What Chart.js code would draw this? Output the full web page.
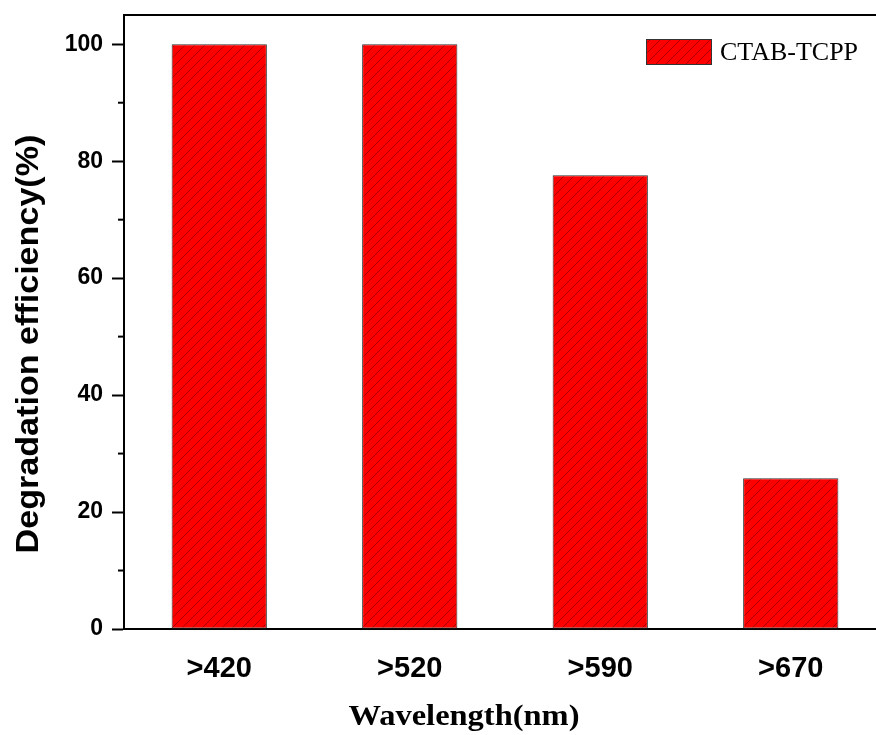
<!DOCTYPE html>
<html>
<head>
<meta charset="utf-8">
<script src="https://cdn.jsdelivr.net/npm/chart.js@4/dist/chart.umd.min.js"></script>
<style>
  body { margin: 0; overflow: hidden; background: #fff; }
  #wrap { width: 900px; height: 735px; }
</style>
</head>
<body>
<div id="wrap"><canvas id="bar-chart" width="900" height="735"></canvas></div>
<script>
var categories = ['>420', '>520', '>590', '>670'];
var efficiency = [100, 100, 77.6, 25.8];
var seriesName = 'CTAB-TCPP';
var yMajorTicks = [0, 20, 40, 60, 80, 100];
var yMinorTicks = [10, 30, 50, 70, 90];

// red fill with thin diagonal hatch
function makeHatch() {
	var c = document.createElement('canvas');
	c.width = 10; c.height = 10;
	var g = c.getContext('2d');
	g.fillStyle = '#ff0000';
	g.fillRect(0, 0, 10, 10);
	g.strokeStyle = 'rgba(90,0,0,0.5)';
	g.lineWidth = 1;
	g.beginPath();
	g.moveTo(-1, 11); g.lineTo(11, -1);
	g.stroke();
	return g.createPattern(c, 'repeat');
}
var hatch = makeHatch();

var decorPlugin = {
	id: 'decor',
	afterDraw: function (chart) {
		var ctx = chart.ctx;
		var area = chart.chartArea;
		var y = chart.scales.y;
		ctx.save();
		// frame top/right
		ctx.strokeStyle = '#000';
		ctx.lineWidth = 2;
		ctx.beginPath();
		ctx.moveTo(area.left, area.top);
		ctx.lineTo(area.right, area.top);
		ctx.lineTo(area.right, area.bottom);
		ctx.stroke();
		// minor ticks
		yMinorTicks.forEach(function (v) {
			var py = y.getPixelForValue(v);
			ctx.beginPath();
			ctx.moveTo(area.left - 6, py);
			ctx.lineTo(area.left, py);
			ctx.stroke();
		});
		// legend
		ctx.fillStyle = hatch;
		ctx.fillRect(646, 39, 65, 25);
		ctx.lineWidth = 1;
		ctx.strokeStyle = '#333';
		ctx.strokeRect(646.5, 39.5, 65, 25);
		ctx.fillStyle = '#000';
		ctx.font = '26px "Liberation Serif", "Times New Roman", serif';
		ctx.textBaseline = 'middle';
		ctx.textAlign = 'left';
		ctx.fillText(seriesName, 720, 53);
		// x title
		ctx.save();
		ctx.translate(464, 718);
		ctx.scale(1.12, 1);
		ctx.font = 'bold 29px "Liberation Serif", "Times New Roman", serif';
		ctx.textAlign = 'center';
		ctx.fillText('Wavelength(nm)', 0, 0);
		ctx.restore();
		// y title
		ctx.save();
		ctx.translate(29, 344);
		ctx.rotate(-Math.PI / 2);
		ctx.scale(1.1, 1);
		ctx.font = 'bold 31px "Liberation Sans", Arial, sans-serif';
		ctx.textAlign = 'center';
		ctx.fillText('Degradation efficiency(%)', 0, 0);
		ctx.restore();
		ctx.restore();
	}
};

new Chart(document.getElementById('bar-chart'), {
	type: 'bar',
	data: {
		labels: categories,
		datasets: [{
			label: seriesName,
			data: efficiency,
			backgroundColor: hatch,
			borderColor: '#333',
			borderWidth: 1,
			borderSkipped: false,
			categoryPercentage: 1,
			barPercentage: 0.5
		}]
	},
	options: {
		responsive: false,
		animation: false,
		layout: { padding: { top: 15, right: 14, left: 0, bottom: 0 } },
		plugins: {
			legend: { display: false },
			tooltip: { enabled: false }
		},
		scales: {
			x: {
				grid: { display: false, drawTicks: false },
				border: { display: true, color: '#000', width: 2 },
				ticks: {
					color: '#000',
					padding: 23,
					font: { family: '"Liberation Sans", Arial, sans-serif', size: 29, weight: 'bold' }
				},
				afterFit: function (s) { s.height = 106; s.paddingLeft = 0; s.paddingRight = 0; }
			},
			y: {
				min: 0,
				max: 105,
				border: { display: true, color: '#000', width: 2 },
				grid: {
					drawOnChartArea: false,
					tickLength: 12,
					tickWidth: 2,
					tickColor: function (c) {
						return yMajorTicks.indexOf(c.tick.value) >= 0 ? '#000' : 'rgba(0,0,0,0)';
					}
				},
				ticks: {
					stepSize: 20,
					includeBounds: false,
					color: '#000',
					padding: 9,
					font: { family: '"Liberation Sans", Arial, sans-serif', size: 23, weight: 'bold' },
					callback: function (v) { return yMajorTicks.indexOf(v) >= 0 ? v : ''; }
				},
				afterFit: function (s) { s.width = 124; s.paddingTop = 0; s.paddingBottom = 0; }
			}
		}
	},
	plugins: [decorPlugin]
});
</script>
</body>
</html>
